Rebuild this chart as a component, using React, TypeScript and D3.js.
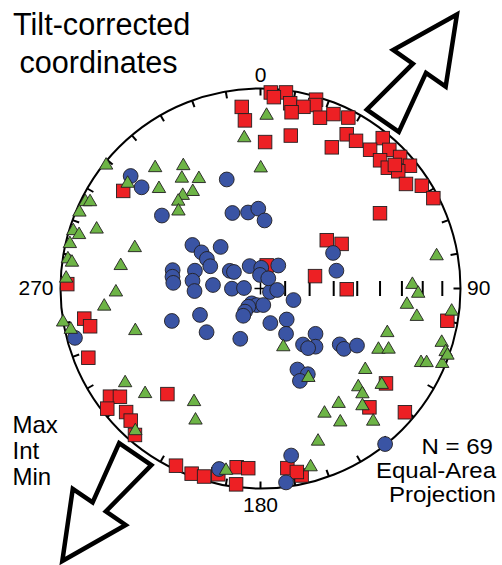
import React from "react";
import * as d3 from "d3";

// Maximum principal axes (trend, plunge in degrees) — red squares
const maxTrend = [3.0, 7.4, 4.0, 9.1, 16.4, 16.6, 13.3, 10.0, 19.2, 22.7, 27.2, 354.1, 354.7, 1.8, 11.2, 26.8, 29.2, 32.9, 39.1, 38.3, 42.9, 43.0, 46.7, 50.6, 46.5, 49.6, 54.3, 57.5, 62.4, 57.8, 53.9, 61.2, 77.2, 90.5, 99.8, 271.3, 260.3, 257.5, 248.1, 305.4, 234.3, 232.4, 231.9, 227.4, 224.5, 220.6, 221.4, 205.5, 200.4, 196.7, 192.8, 187.6, 183.9, 187.1, 171.5, 167.6, 127.1, 137.5, 130.6, 15.0, 168.8, 47.4];
const maxPlunge = [2.1, 1.3, 4.6, 6.9, 1.8, 4.8, 7.4, 11.5, 10.5, 6.1, 4.4, 9.6, 16.7, 27.6, 23.1, 22.0, 12.7, 13.1, 3.5, 12.6, 6.0, 13.4, 4.6, 3.7, 13.3, 10.5, 11.4, 4.9, 2.8, 30.1, 56.3, 51.8, 67.2, 54.5, 5.8, 3.8, 11.6, 13.8, 8.0, 16.9, 8.1, 12.3, 3.0, 9.6, 8.2, 4.0, 30.3, 2.1, 1.4, 2.1, 5.3, 10.8, 10.9, 1.5, 10.1, 4.8, 22.4, 20.5, 5.5, 80.3, 7.2, 9.6];

// Intermediate axes — green triangles
const intTrend = [308.9, 319.2, 328.1, 324.8, 331.0, 314.9, 325.4, 320.5, 317.1, 313.8, 2.0, 353.9, 0.1, 296.7, 297.3, 293.2, 287.5, 290.3, 286.9, 283.6, 288.5, 279.1, 278.3, 279.8, 273.4, 269.1, 264.0, 260.7, 258.2, 251.9, 79.1, 88.0, 91.3, 95.7, 99.7, 96.4, 108.7, 116.8, 114.9, 106.2, 108.5, 114.4, 113.7, 112.1, 109.3, 158.2, 151.4, 127.3, 134.8, 135.6, 128.0, 145.5, 138.7, 152.6, 148.9, 139.4, 159.2, 164.2, 235.5, 228.0, 210.7, 206.5, 221.6, 190.8, 308.7];
const intPlunge = [0.9, 20.5, 27.8, 32.3, 36.6, 29.1, 40.1, 38.8, 39.4, 42.6, 13.8, 24.6, 39.0, 2.3, 4.6, 1.7, 2.1, 13.7, 5.8, 2.2, 34.1, 2.8, 5.3, 29.8, 3.0, 28.5, 22.5, 0.0, 3.5, 34.5, 11.3, 25.0, 22.2, 27.3, 21.8, 4.3, 33.5, 34.3, 30.1, 6.3, 2.7, 12.9, 10.2, 2.2, 1.1, 64.9, 48.6, 34.5, 31.7, 28.0, 24.1, 31.6, 23.8, 31.1, 23.8, 14.5, 20.1, 8.8, 19.0, 23.4, 35.2, 28.0, 6.4, 8.9, 16.0];

// Minimum axes — blue circles
const minTrend = [310.9, 310.4, 306.5, 342.8, 339.6, 350.7, 358.4, 3.4, 302.6, 301.5, 316.2, 298.9, 293.9, 281.8, 277.6, 273.7, 285.2, 276.5, 267.8, 274.2, 299.9, 301.9, 334.1, 2.0, 37.7, 269.6, 271.7, 357.9, 110.2, 37.4, 95.1, 210.7, 193.0, 170.4, 213.8, 213.8, 212.3, 109.3, 249.9, 246.4, 231.0, 201.9, 164.1, 139.8, 150.6, 63.9, 76.8, 142.8, 129.5, 136.6, 141.4, 125.2, 125.9, 120.6, 155.5, 151.1, 156.9, 255.1, 141.3, 169.6, 172.5, 192.9];
const minPlunge = [15.2, 23.0, 38.6, 42.4, 56.9, 58.4, 57.2, 62.1, 56.8, 61.7, 66.5, 65.0, 67.6, 53.0, 53.4, 54.0, 62.2, 62.0, 63.0, 70.6, 75.6, 77.3, 79.9, 81.6, 78.2, 78.4, 83.3, 84.5, 85.9, 84.8, 83.2, 83.0, 83.1, 83.2, 81.1, 78.7, 76.9, 75.8, 51.0, 63.0, 61.6, 67.9, 75.4, 73.5, 68.8, 56.8, 58.0, 61.2, 60.8, 57.1, 58.7, 49.9, 47.3, 43.3, 53.3, 49.5, 48.4, 4.5, 0.4, 16.2, 2.5, 8.2];

// Azimuth labels around the primitive
const azimuthLabels = ["0", "90", "180", "270"];
// Plunge graduations along the east radius
const plungeMarks = [80, 70, 60, 50, 40, 30, 20, 10];
// Arrow directions (azimuth of pointing, azimuth of base on the net)
const arrowDirection = [34.9, 214.3];
const arrowBaseAzimuth = [36.1, 217.1];

const legendLines = ["Max", "Int", "Min"];
const infoLines = ["N = 69", "Equal-Area", "Projection"];
const infoWidths = [71.5, 120, 107];

const W = 502;
const H = 565;
const CX = 260.5;
const CY = 288.5;
const R = 200;
const FONT = "'Liberation Sans', Arial, Helvetica, sans-serif";

const RED = "#ED2024";
const GREEN = "#6DB446";
const BLUE = "#3A54A4";
const INK = "#231F20";

const rad = Math.PI / 180;
const xs = d3.scaleLinear().domain([-1, 1]).range([CX - R, CX + R]);
const ys = d3.scaleLinear().domain([-1, 1]).range([CY + R, CY - R]);

// Lower-hemisphere equal-area (Schmidt) projection, unit primitive radius
function project(trend: number, plunge: number): [number, number] {
  const rho = Math.SQRT2 * Math.sin(((90 - plunge) / 2) * rad);
  return [xs(rho * Math.sin(trend * rad)), ys(rho * Math.cos(trend * rad))];
}

function polar(az: number, r: number): [number, number] {
  return [xs(r * Math.sin(az * rad)), ys(r * Math.cos(az * rad))];
}

// Open arrow outline in local units: u along the arrow, v across it (pixels)
const arrowShape: [number, number][] = [
  [129.5, 0],
  [64, 32],
  [64, 8],
  [0, 19.5],
  [0, -19.5],
  [64, -8],
  [64, -32],
];

function arrowPoints(dir: number, baseAz: number): string {
  const [bx, by] = polar(baseAz, 1.038);
  const ax = Math.sin(dir * rad);
  const ay = -Math.cos(dir * rad);
  const px = -ay;
  const py = ax;
  return arrowShape
    .map(([u, v]) => `${(bx + u * ax + v * px).toFixed(2)},${(by + u * ay + v * py).toFixed(2)}`)
    .join(" ");
}

export default function App() {
  const tickAz = d3.range(0, 360, 10);
  const tickLen = 7 / R;

  const squares = maxTrend.map((t, i) => project(t, maxPlunge[i]));
  const triangles = intTrend.map((t, i) => project(t, intPlunge[i]));
  const circles = minTrend.map((t, i) => project(t, minPlunge[i]));

  const sq = 13.5;
  const triPath = "M0,-6.3L6.7,5.2L-6.7,5.2Z";

  return (
    <svg
      width={W}
      height={H}
      viewBox={`0 0 ${W} ${H}`}
      style={{ position: "absolute", left: 0, top: 0, background: "#fff" }}
    >
      {/* primitive circle */}
      <circle cx={xs(0)} cy={ys(0)} r={xs(1) - xs(0)} fill="none" stroke="#000" strokeWidth={2} />
      {/* azimuth ticks */}
      {tickAz.map((az) => {
        const [x1, y1] = polar(az, 1);
        const [x2, y2] = polar(az, 1 - tickLen);
        return <line key={`t${az}`} x1={x1} y1={y1} x2={x2} y2={y2} stroke="#000" strokeWidth={2} />;
      })}
      {/* plunge graduations along the east radius */}
      {plungeMarks.map((p) => {
        const [px, py] = project(90, p);
        return <line key={`p${p}`} x1={px} y1={py - 7.5} x2={px} y2={py + 7.5} stroke="#000" strokeWidth={2} />;
      })}
      {/* centre cross */}
      <line x1={xs(0) - 6} y1={ys(0)} x2={xs(0) + 6} y2={ys(0)} stroke="#000" strokeWidth={1.5} />
      <line x1={xs(0)} y1={ys(0) - 6} x2={xs(0)} y2={ys(0) + 6} stroke="#000" strokeWidth={1.5} />

      {/* maximum axes */}
      {squares.map(([x, y], i) => (
        <rect key={`s${i}`} x={x - sq / 2} y={y - sq / 2} width={sq} height={sq} fill={RED} stroke={INK} strokeWidth={0.9} />
      ))}
      {/* minimum axes */}
      {circles.map(([x, y], i) => (
        <circle key={`c${i}`} cx={x} cy={y} r={7.4} fill={BLUE} stroke={INK} strokeWidth={0.9} />
      ))}
      {/* intermediate axes */}
      {triangles.map(([x, y], i) => (
        <path key={`g${i}`} d={triPath} transform={`translate(${x},${y})`} fill={GREEN} stroke={INK} strokeWidth={0.9} />
      ))}

      {/* arrows */}
      {arrowDirection.map((d, i) => (
        <polygon
          key={`a${i}`}
          points={arrowPoints(d, arrowBaseAzimuth[i])}
          fill="#fff"
          stroke="#000"
          strokeWidth={4.5}
          strokeLinejoin="miter"
        />
      ))}

      {/* azimuth labels */}
      <g fontFamily={FONT} fontSize={21} fill="#000">
        <text x={polar(0, 1)[0]} y={81.8} textAnchor="middle">{azimuthLabels[0]}</text>
        <text x={467} y={295} textAnchor="start">{azimuthLabels[1]}</text>
        <text x={polar(180, 1)[0]} y={512} textAnchor="middle">{azimuthLabels[2]}</text>
        <text x={53.5} y={295} textAnchor="end">{azimuthLabels[3]}</text>
      </g>

      {/* title */}
      <text fontFamily={FONT} fontSize={30.6} fill="#000">
        <tspan x={13} y={35.3}>Tilt-corrected</tspan>
        <tspan x={19.5} y={72.9}>coordinates</tspan>
      </text>

      {/* legend */}
      <text fontFamily={FONT} fontSize={24} fill="#000">
        {legendLines.map((t, i) => (
          <tspan key={t} x={12.5} y={433.3 + i * 25.6}>{t}</tspan>
        ))}
      </text>

      {/* sample info */}
      <g fontFamily={FONT} fontSize={21.5} fill="#000" textAnchor="end">
        {infoLines.map((t, i) => (
          <text
            key={t}
            x={i === 0 ? 493 : 496}
            y={454 + i * 23.8}
            textLength={infoWidths[i]}
            lengthAdjust="spacingAndGlyphs"
          >
            {t}
          </text>
        ))}
      </g>
    </svg>
  );
}
